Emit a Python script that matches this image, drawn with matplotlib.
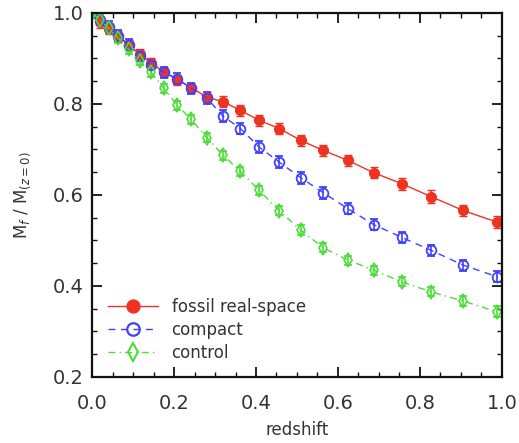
import matplotlib
matplotlib.use("Agg")
import matplotlib.pyplot as plt
from matplotlib.lines import Line2D
from matplotlib.ticker import MultipleLocator, FormatStrFormatter

# Snapshot redshifts
redshift = [0.000, 0.020, 0.041, 0.064, 0.089, 0.116, 0.144, 0.175, 0.208,
            0.242, 0.280, 0.320, 0.362, 0.408, 0.457, 0.509, 0.564, 0.624,
            0.687, 0.755, 0.828, 0.905, 0.989]

# Mass fraction M_f / M(z=0) for each sample
fossil = [1.000, 0.980, 0.965, 0.948, 0.930, 0.910, 0.890, 0.871, 0.853,
          0.836, 0.815, 0.805, 0.786, 0.764, 0.746, 0.720, 0.698, 0.676,
          0.649, 0.625, 0.596, 0.566, 0.540]
fossil_err = [0.005, 0.014, 0.012, 0.012, 0.011, 0.011, 0.011, 0.011, 0.011,
              0.011, 0.011, 0.012, 0.012, 0.012, 0.012, 0.012, 0.012, 0.012,
              0.012, 0.013, 0.014, 0.013, 0.013]

compact = [1.000, 0.985, 0.970, 0.950, 0.930, 0.906, 0.886, 0.870, 0.855,
           0.835, 0.813, 0.773, 0.746, 0.705, 0.672, 0.638, 0.605, 0.570,
           0.535, 0.507, 0.478, 0.446, 0.420]
compact_err = [0.005, 0.012, 0.012, 0.012, 0.012, 0.012, 0.012, 0.012, 0.012,
               0.012, 0.013, 0.013, 0.013, 0.013, 0.013, 0.013, 0.013, 0.012,
               0.012, 0.012, 0.012, 0.012, 0.012]

control = [1.000, 0.985, 0.966, 0.945, 0.920, 0.895, 0.870, 0.835, 0.797,
           0.766, 0.726, 0.687, 0.652, 0.610, 0.565, 0.523, 0.484, 0.457,
           0.435, 0.409, 0.387, 0.367, 0.343]
control_err = [0.005, 0.010, 0.010, 0.010, 0.010, 0.010, 0.010, 0.010, 0.010,
               0.010, 0.010, 0.010, 0.010, 0.010, 0.010, 0.010, 0.010, 0.010,
               0.010, 0.010, 0.010, 0.011, 0.012]

labels = ["fossil real-space", "compact", "control"]

RED = "#ee3322"
BLUE = "#4040ff"
GREEN = "#4cdd38"
TXT = "#333333"

plt.rcParams["font.family"] = "DejaVu Sans"

fig = plt.figure(figsize=(5.19, 4.43), dpi=100)
ax = fig.add_axes([0.1773, 0.149, 0.7899, 0.8217])

styles = [
    dict(color=RED, ls="-", marker="o", mfc=RED, mew=1.0),
    dict(color=BLUE, ls=(0, (5, 4)), marker="o", mfc="none", mew=1.3),
    dict(color=GREEN, ls=(0, (5, 3, 1, 3)), marker="d", mfc="none", mew=1.2),
]
series = [(fossil, fossil_err), (compact, compact_err), (control, control_err)]

handles = []
for (vals, errs), st, lab in zip(series, styles, labels):
    ax.errorbar(redshift, vals, yerr=errs, color=st["color"], ls=st["ls"],
                lw=1.0, marker=st["marker"], ms=7, mfc=st["mfc"],
                mec=st["color"], mew=st["mew"], elinewidth=1.2, capsize=3)
    handles.append(Line2D([], [], color=st["color"], ls=st["ls"], lw=1.0,
                          marker=st["marker"], ms=9, mfc=st["mfc"],
                          mec=st["color"], mew=st["mew"] + 0.3, label=lab))

ax.set_xlim(0.0, 1.0)
ax.set_ylim(0.2, 1.0)
ax.xaxis.set_major_locator(MultipleLocator(0.2))
ax.xaxis.set_minor_locator(MultipleLocator(0.05))
ax.yaxis.set_major_locator(MultipleLocator(0.2))
ax.yaxis.set_minor_locator(MultipleLocator(0.05))
ax.xaxis.set_major_formatter(FormatStrFormatter("%.1f"))
ax.yaxis.set_major_formatter(FormatStrFormatter("%.1f"))

for s in ax.spines.values():
    s.set_linewidth(1.6)
    s.set_color("#111111")

ax.tick_params(which="both", direction="in", top=True, right=True,
               colors="#111111", labelcolor=TXT)
ax.tick_params(which="major", length=7, width=1.3, labelsize=14)
ax.tick_params(which="minor", length=3.5, width=1.0)
ax.tick_params(axis="x", which="major", pad=12)
ax.tick_params(axis="y", which="major", pad=6)

ax.set_xlabel("redshift", fontsize=12, color=TXT, labelpad=6)
ax.set_ylabel(r"M$_f$ / M$_{(z=0)}$", fontsize=12, color=TXT, labelpad=14)

leg = ax.legend(handles=handles, loc="lower left",
                bbox_to_anchor=(0.015, 0.015), frameon=False, fontsize=12,
                handlelength=3.0, handletextpad=0.8, labelspacing=0.3,
                borderaxespad=0.2)
for t in leg.get_texts():
    t.set_color(TXT)

fig.savefig("out.png", dpi=100)
